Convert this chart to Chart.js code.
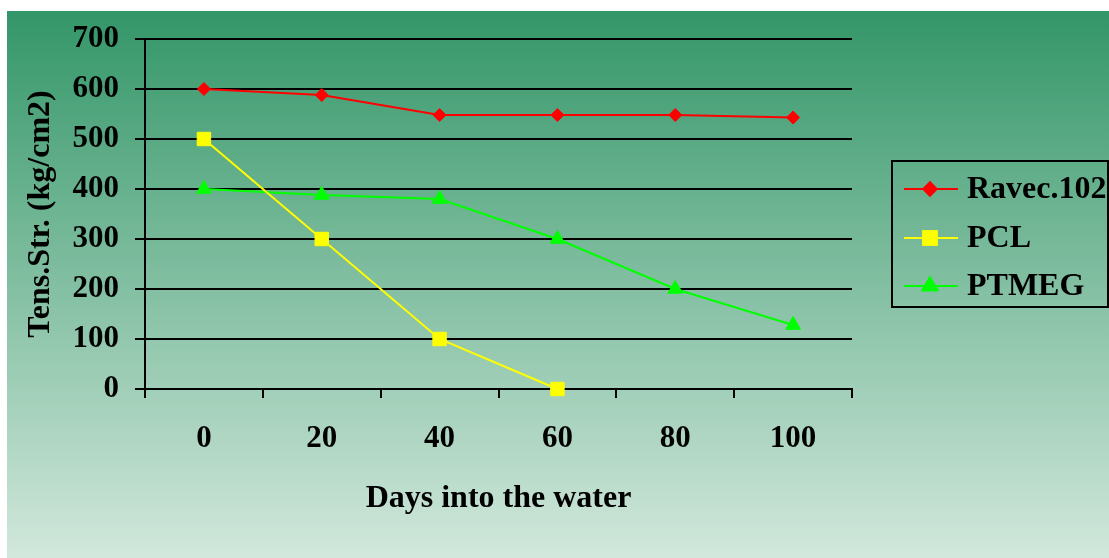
<!DOCTYPE html>
<html>
<head>
<meta charset="utf-8">
<script src="https://cdn.jsdelivr.net/npm/chart.js@4/dist/chart.umd.min.js"></script>
<style>
  html, body { margin: 0; padding: 0; background: #ffffff; }
  #wrap { width: 1109px; height: 558px; position: relative; }
</style>
</head>
<body>
<div id="wrap"><canvas id="c" width="1109" height="558"></canvas></div>
<script>
// Tensile strength (kg/cm2) against days of immersion in water
const days = ['0', '20', '40', '60', '80', '100'];
const ravec = [600, 588, 548, 548, 548, 543];
const pcl = [500, 300, 100, 0, null, null];
const ptmeg = [400, 388, 380, 300, 200, 128];
const seriesNames = ['Ravec.102', 'PCL', 'PTMEG'];

const FONT = '"Liberation Serif", "Times New Roman", serif';

// Green vertical gradient behind the whole chart
const backdrop = {
  id: 'backdrop',
  beforeDraw(chart) {
    const ctx = chart.ctx;
    const g = ctx.createLinearGradient(0, 11, 0, 558);
    g.addColorStop(0, 'rgb(51,150,104)');
    g.addColorStop(1, 'rgb(210,232,220)');
    ctx.save();
    ctx.fillStyle = g;
    ctx.fillRect(7, 11, chart.width - 7, chart.height - 11);
    ctx.restore();
  }
};

// Boxed legend with line + marker samples
const boxLegend = {
  id: 'boxLegend',
  afterDraw(chart) {
    const ctx = chart.ctx;
    const box = { x: 892, y: 161, w: 216, h: 146 };
    ctx.save();
    ctx.strokeStyle = '#000';
    ctx.lineWidth = 2;
    ctx.strokeRect(box.x, box.y, box.w, box.h);
    const rows = [189, 238, 286];
    chart.data.datasets.forEach((ds, i) => {
      const y = rows[i];
      ctx.strokeStyle = ds.borderColor;
      ctx.lineWidth = 2;
      ctx.beginPath();
      ctx.moveTo(904, y);
      ctx.lineTo(958, y);
      ctx.stroke();
      Chart.helpers.drawPoint(ctx, {
        pointStyle: ds.pointStyle,
        radius: ds.pointRadius,
        borderWidth: 1
      }, 930, y);
      ctx.fillStyle = ds.pointBackgroundColor;
      ctx.strokeStyle = ds.pointBorderColor;
      ctx.fill();
      ctx.stroke();
      ctx.fillStyle = '#000';
      ctx.font = 'bold 32px ' + FONT;
      ctx.textBaseline = 'middle';
      ctx.textAlign = 'left';
      ctx.fillText(ds.label, 967, y + 1);
    });
    ctx.restore();
  }
};

function series(label, data, color, style, radius) {
  return {
    label: label,
    data: data,
    borderColor: color,
    backgroundColor: color,
    pointBackgroundColor: color,
    pointBorderColor: color,
    pointStyle: style,
    pointRadius: radius,
    pointHoverRadius: radius,
    pointBorderWidth: 1,
    borderWidth: 2,
    tension: 0,
    spanGaps: false,
    clip: false
  };
}

new Chart(document.getElementById('c'), {
  type: 'line',
  data: {
    labels: days,
    datasets: [
      series(seriesNames[0], ravec, '#ff0000', 'rectRot', 6.5),
      series(seriesNames[1], pcl, '#ffff00', 'rect', 9.5),
      series(seriesNames[2], ptmeg, '#00ff00', 'triangle', 8.5)
    ]
  },
  options: {
    responsive: false,
    animation: false,
    events: [],
    layout: { padding: { left: 0, top: 39, right: 257, bottom: 0 } },
    plugins: {
      legend: { display: false },
      tooltip: { enabled: false }
    },
    scales: {
      x: {
        type: 'category',
        offset: true,
        grid: {
          offset: true,
          drawOnChartArea: false,
          color: '#000',
          lineWidth: 2,
          tickLength: 9
        },
        border: { display: true, color: '#000', width: 2 },
        ticks: {
          color: '#000',
          font: { family: FONT, size: 31, weight: 'bold' },
          padding: 22,
          maxRotation: 0
        },
        title: {
          display: true,
          text: 'Days into the water',
          color: '#000',
          font: { family: FONT, size: 32, weight: 'bold' },
          padding: { top: 4, bottom: 40 }
        },
        afterFit(scale) { scale.height = 169; }
      },
      y: {
        min: 0,
        max: 700,
        ticks: {
          stepSize: 100,
          color: '#000',
          font: { family: FONT, size: 31, weight: 'bold' },
          padding: 16
        },
        grid: {
          color: '#000',
          lineWidth: 2,
          tickLength: 10
        },
        border: { display: true, color: '#000', width: 2 },
        title: {
          display: true,
          text: 'Tens.Str. (kg/cm2)',
          color: '#000',
          font: { family: FONT, size: 32, weight: 'bold' },
          padding: { top: 22, bottom: 4 }
        },
        afterFit(scale) { scale.width = 145; }
      }
    }
  },
  plugins: [backdrop, boxLegend]
});
</script>
</body>
</html>
